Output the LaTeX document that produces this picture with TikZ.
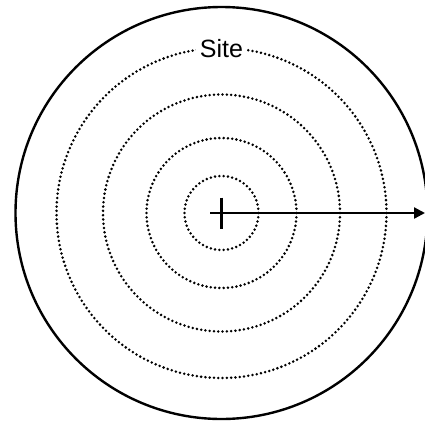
\documentclass[tikz,border=0pt]{standalone}
\usepackage{fontspec}
\setmainfont{Liberation Sans}
\usetikzlibrary{arrows.meta}

\begin{document}
\begin{tikzpicture}[x=1pt, y=1pt,
        dot/.style={fill=black},
        rim/.style={line width=2.4pt},
        arr/.style={-{Triangle[length=11pt, width=11pt]}, line width=2.3pt},
        lbl/.style={fill=white, inner xsep=4pt, inner ysep=2pt, font=\fontsize{25}{25}\selectfont}
        ]
        \useasboundingbox (-221.5,-211) rectangle (203.5,213);
        \coordinate (c) at (0,0);
        \draw[rim] (c) circle (206);
        % dotted rings: radius / number of dots
        \foreach \r/\n in {37/54, 75/110, 118.5/173, 165/241}
            \foreach \k in {1,...,\n}
                \fill[dot] ({360/\n*\k}:\r) circle (1.4);
        \node[lbl] (site) at (0,164) {Site};
        \coordinate (start) at (-11.5,0);
        \coordinate (tip) at (203.5,0);
        \coordinate (crosstop) at (0,15.5);
        \coordinate (crossbot) at (0,-15.5);
        \draw[arr] (start) -- (tip);
        \draw[line width=2.3pt] (crosstop) -- (crossbot);
\end{tikzpicture}
\end{document}
